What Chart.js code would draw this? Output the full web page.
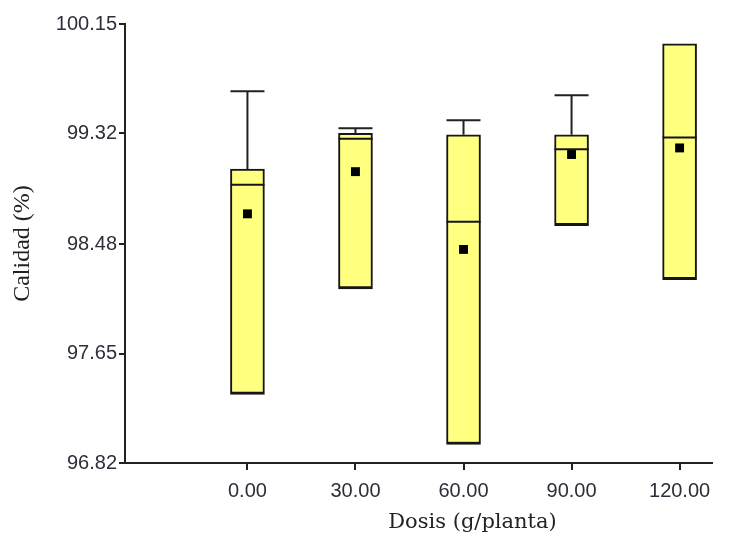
<!DOCTYPE html>
<html>
<head>
<meta charset="utf-8">
<script src="https://cdn.jsdelivr.net/npm/chart.js@4/dist/chart.umd.min.js"></script>
<style>
  body { margin: 0; background: #fff; }
  #wrap { width: 742px; height: 545px; }
</style>
</head>
<body>
<div id="wrap"><canvas id="boxChart" width="742" height="545"></canvas></div>
<script>
// dosis (g/planta)
var dosis = [0, 30, 60, 90, 120];
// box: q1 / median / q3, whisker top, mean  (Calidad %)
var q1      = [97.34, 98.14, 96.96, 98.62, 98.21];
var mediana = [98.93, 99.28, 98.65, 99.20, 99.29];
var q3      = [99.05, 99.32, 99.31, 99.31, 100.00];
var maximo  = [99.64, 99.36, 99.42, 99.61, 100.00];
var media   = [98.71, 99.03, 98.44, 99.16, 99.21];
var yTicks  = [96.82, 97.65, 98.48, 99.32, 100.15];

var boxData = [], medData = [], meanData = [];
for (var i = 0; i < dosis.length; i++) {
    boxData.push({ x: dosis[i], y: [q1[i], q3[i]] });
    medData.push({ x: dosis[i], y: mediana[i] });
    meanData.push({ x: dosis[i], y: media[i] });
}

// bigotes (solo el superior)
var whiskers = {
    id: 'whiskers',
    beforeDatasetsDraw: function (chart) {
        var xs = chart.scales.x, ys = chart.scales.y, ctx = chart.ctx;
        ctx.save();
        ctx.strokeStyle = '#222';
        ctx.lineWidth = 2;
        for (var i = 0; i < dosis.length; i++) {
            if (maximo[i] <= q3[i]) continue;
            var px = xs.getPixelForValue(dosis[i]);
            var top = ys.getPixelForValue(maximo[i]);
            var bot = ys.getPixelForValue(q3[i]);
            ctx.beginPath();
            ctx.moveTo(px, bot);
            ctx.lineTo(px, top);
            ctx.moveTo(px - 17, top);
            ctx.lineTo(px + 17, top);
            ctx.stroke();
        }
        ctx.restore();
    }
};

// titulo del eje x (centrado bajo 60.00 como en la figura original)
var xTitle = {
    id: 'xTitle',
    afterDraw: function (chart) {
        var xs = chart.scales.x, ctx = chart.ctx;
        ctx.save();
        ctx.fillStyle = '#222';
        ctx.font = '21px "DejaVu Serif"';
        ctx.textAlign = 'center';
        ctx.textBaseline = 'middle';
        ctx.fillText('Dosis (g/planta)', xs.getPixelForValue(dosis[2]) + 9, 523);
        ctx.restore();
    }
};

var ctx = document.getElementById('boxChart').getContext('2d');
var boxChart = new Chart(ctx, {
    type: 'bar',
    data: {
        datasets: [
            {
                data: boxData,
                backgroundColor: '#ffff80',
                borderColor: '#161616',
                borderWidth: { top: 2, left: 2, right: 2, bottom: 3 },
                borderSkipped: false,
                barThickness: 34,
                order: 3
            },
            {
                type: 'line',
                data: medData,
                showLine: false,
                pointStyle: 'line',
                pointRadius: 17,
                pointBorderWidth: 2,
                pointBorderColor: '#161616',
                order: 1
            },
            {
                type: 'line',
                data: meanData,
                showLine: false,
                pointStyle: 'rect',
                pointRadius: 6.3,
                pointBackgroundColor: '#000',
                pointBorderColor: '#000',
                pointBorderWidth: 0,
                order: 0
            }
        ]
    },
    options: {
        responsive: false,
        animation: false,
        layout: { padding: { left: 0, right: 30, top: 24, bottom: 0 } },
        plugins: { legend: { display: false }, tooltip: { enabled: false } },
        scales: {
            x: {
                type: 'linear',
                min: -34,
                max: 129,
                offset: false,
                afterBuildTicks: function (scale) {
                    scale.ticks = dosis.map(function (v) { return { value: v }; });
                },
                afterFit: function (scale) { scale.height = 82; },
                grid: { offset: false, drawOnChartArea: false, drawTicks: true, tickLength: 7, color: '#222', lineWidth: 2 },
                border: { display: true, color: '#222', width: 2 },
                ticks: {
                    color: '#2e2e3a',
                    font: { family: 'Liberation Sans', size: 20 },
                    padding: 9,
                    maxRotation: 0,
                    callback: function (v) { return Number(v).toFixed(2); }
                },
                title: { display: false }
            },
            y: {
                min: 96.82,
                max: 100.15,
                afterBuildTicks: function (scale) {
                    scale.ticks = yTicks.map(function (v) { return { value: v }; });
                },
                afterFit: function (scale) { scale.width = 125; },
                grid: { drawOnChartArea: false, drawTicks: true, tickLength: 6, color: '#222', lineWidth: 2 },
                border: { display: true, color: '#222', width: 2 },
                ticks: {
                    color: '#2e2e3a',
                    font: { family: 'Liberation Sans', size: 20 },
                    padding: 2,
                    callback: function (v) { return Number(v).toFixed(2); }
                },
                title: {
                    display: true,
                    text: 'Calidad (%)',
                    color: '#222',
                    font: { family: 'Liberation Serif', size: 24 },
                    padding: { top: 8, bottom: 0 }
                }
            }
        }
    },
    plugins: [whiskers, xTitle]
});
</script>
</body>
</html>
